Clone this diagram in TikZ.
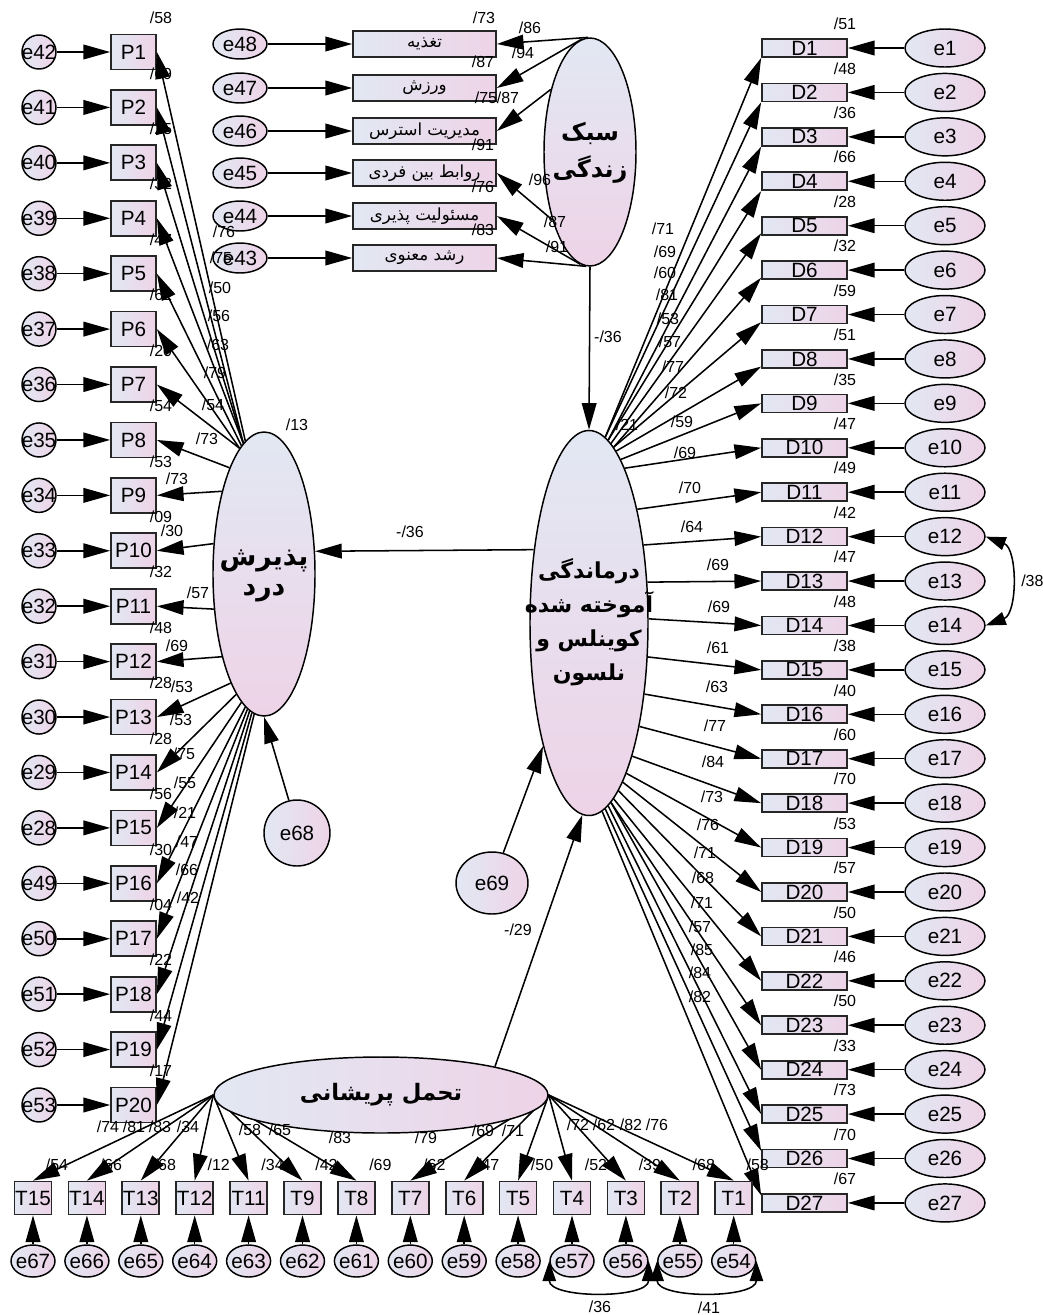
\documentclass[tikz,border=0pt]{standalone}
\usepackage{fontspec}
\setmainfont{Liberation Sans}
\newfontfamily\persianfont[Script=Arabic]{DejaVu Sans}
\TeXXeTstate=1
\usetikzlibrary{arrows.meta,shapes.geometric}
\pgfdeclarelayer{bglayer}
\pgfsetlayers{bglayer,main}
\definecolor{gL}{RGB}{226,232,243}
\definecolor{gR}{RGB}{238,211,231}
\newcommand\fa[1]{{\persianfont\beginR #1\endR}}
\newcommand\zwb[1]{\makebox[0pt]{#1}}
\begin{document}
\begin{tikzpicture}[x=0.75pt,y=-0.75pt,
  every node/.style={font=\fontsize{15.5}{18}\selectfont},
  obs/.style={rectangle, draw=black!85, line width=1.3pt, left color=gL, right color=gR, inner sep=0pt},
  pbox/.style={obs, minimum width=33.75pt, minimum height=26.25pt},
  dbox/.style={obs, minimum width=63.75pt, minimum height=13.5pt},
  tbox/.style={obs, minimum width=27.75pt, minimum height=24.75pt},
  lbox/.style={obs, minimum width=107.25pt, minimum height=19.5pt, font=\fontsize{12.5}{14}\selectfont},
  err/.style={ellipse, draw=black, line width=1.1pt, left color=gL, right color=gR, inner sep=0pt},
  ecl/.style={err, minimum width=25.5pt, minimum height=25.5pt},
  erd/.style={err, minimum width=60pt, minimum height=28.5pt},
  elb/.style={err, minimum width=33pt, minimum height=24pt},
  etp/.style={err, minimum width=40.5pt, minimum height=22.5pt},
  lat/.style={ellipse, draw=black, line width=1.1pt, top color=gL, bottom color=gR, inner sep=0pt},
  arr/.style={line width=1.15pt, -{Triangle[length=20pt,width=11pt]}},
  cov/.style={line width=1.15pt, {Triangle[length=15pt,width=10pt]}-{Triangle[length=15pt,width=10pt]}},
  num/.style={font=\fontsize{12}{14}\selectfont, inner sep=0pt},
]
\begin{pgfonlayer}{bglayer}
\fill[white] (0,0) rectangle (1043,1315);
\end{pgfonlayer}
\useasboundingbox (0,0) rectangle (1043,1315);

% ---------- latent variables
\node[lat, minimum width=69pt, minimum height=171pt,
  font=\persianfont\bfseries\fontsize{18}{27.75}\selectfont] (life) at (590,152)
  {\zwb{\begin{tabular}{@{}c@{}}\fa{سبک}\\\fa{زندگی}\end{tabular}}};
\node[lat, minimum width=76.5pt, minimum height=213pt,
  font=\persianfont\bfseries\fontsize{20}{22.5}\selectfont] (pain) at (264,574)
  {\zwb{\begin{tabular}{@{}c@{}}\fa{پذیرش}\\\fa{درد}\end{tabular}}};
\node[lat, minimum width=88.5pt, minimum height=288.75pt,
  font=\persianfont\bfseries\fontsize{16.5}{25.5}\selectfont] (help) at (589,623)
  {\zwb{\begin{tabular}{@{}c@{}}\fa{درماندگی}\\\fa{آموخته شده}\\\fa{کوینلس و}\\\fa{نلسون}\end{tabular}}};
\node[lat, left color=gL, right color=gR, minimum width=250.5pt, minimum height=57pt,
  font=\persianfont\bfseries\fontsize{17}{20}\selectfont] (dist) at (381,1095)
  {\zwb{\fa{تحمل پریشانی}}};
\node[err, minimum width=49.5pt, minimum height=49.5pt] (e68) at (297,833) {\zwb{e68}};
\node[err, minimum width=54pt, minimum height=46.5pt] (e69) at (492,883) {\zwb{e69}};

% ---------- structural paths
\draw[arr] (life.south) -- (help.north);
\draw[arr] (help.127) -- (pain.24);
\draw[arr] (dist.14) -- (help.268);
\draw[arr] (e68.104) -- (pain.south);
\draw[arr] (e69) -- (help);
\node[num] (c1) at (608,337) {-/36};
\node[num] (c2) at (410,532) {-/36};
\node[num] (c3) at (518,930) {-/29};
\node[num] (r1) at (297,425) {/13};
\node[num] (r2) at (627,425) {/21};

% ---------- lifestyle indicators
\foreach \y/\e/\a/\t [count=\i] in {44/48/91/تغذیه, 88/47/94/ورزش, 131/46/122/مدیریت استرس, 173/45/241/روابط بین فردی, 216/44/265/مسئولیت پذیری, 258/43/268/رشد معنوی} {
  \node[lbox] (L\i) at (424.5,\y) {\fa{\t}};
  \node[etp] (e\e) at (240,\y) {\zwb{e\e}};
  \draw[arr] (e\e) -- (L\i);
  \draw[arr] (life.\a) -- (L\i.east);
}
\foreach \x/\y/\v [count=\i] in {484/18/73, 530/28/86, 523/53/94, 483/62/87, 486/98/75, 508/98/87, 483/145/91, 540/180/96, 483/187/76, 555/222/87, 483/230/83, 557/247/91}
  \node[num] (ll\i) at (\x,\y) {/\v};

% ---------- pain acceptance indicators
\foreach \e/\a [count=\i] in {42/98,41/99,40/99,39/99,38/100,37/101,36/101,35/108,34/117,33/149,32/215,31/243,30/253,29/257,28/260,49/262,50/263,51/264,52/265,53/266} {
  \node[pbox] (P\i) at (133.5,{52+(\i-1)*55.42}) {P\i};
  \node[ecl] (e\e) at (39,{52+(\i-1)*55.42}) {\zwb{e\e}};
  \draw[arr] (e\e) -- (P\i);
  \draw[arr] (pain.\a) -- (P\i.east);
}
\foreach \v [count=\i] in {58,69,25,32,47,62,20,54,53,09,32,48,28,28,56,30,04,22,44,17}
  \node[num] (rp\i) at (161,{18+(\i-1)*55.42}) {/\v};
\foreach \x/\y/\v [count=\i] in {224/232/76, 221/258/75, 220/288/50, 219/316/56, 218/345/63, 215/373/79, 213/405/54, 207/439/73, 177/479/73, 172/531/30, 198/593/57, 177/646/69, 182/687/53, 181/720/53, 184/754/75, 185/783/55, 185/813/21, 187/842/47, 187/870/66, 188/898/42}
  \node[num] (lp\i) at (\x,\y) {/\v};

% ---------- learned helplessness indicators
\foreach \r/\a/\b [count=\i] in {51/85/south west, 48/85/south west, 36/84/south west, 66/84/south west, 28/83/190, 32/82/190, 59/82/190, 51/81/190, 35/79/west, 47/77/west, 49/67/west, 42/55/west, 47/35/west, 48/4/west, 38/330/west, 40/308/west, 60/296/west, 70/288/west, 53/284/west, 57/282/west, 50/280/west, 46/278/west, 50/277/west, 33/277/west, 73/276/west, 70/275/170, 67/274/170} {
  \node[dbox] (D\i) at (804.5,{48+(\i-1)*44.42}) {D\i};
  \node[erd] (e\i) at (945,{48+(\i-1)*44.42}) {\zwb{e\i}};
  \draw[arr] (e\i) -- (D\i);
  \draw[arr] (help.\a) -- (D\i.\b);
  \node[num] (rd\i) at (845,{24+(\i-1)*44.42}) {/\r};
}
\foreach \x/\y/\v [count=\i] in {663/229/71, 665/252/69, 665/273/60, 667/295/81, 668/319/53, 670/342/57, 673/367/77, 676/393/72, 682/422/59, 685/453/69, 690/488/70, 692/527/64, 718/565/69, 719/607/69, 718/648/61, 717/687/63, 715/726/77, 713/762/84, 712/797/73, 708/825/76, 705/853/71, 703/878/68, 702/903/71, 700/927/57, 702/950/85, 700/973/84, 700/997/82}
  \node[num] (ld\i) at (\x,\y) {/\v};
\draw[cov] (e12.east) .. controls +(32,12) and +(32,-12) .. (e14.east);
\node[num, anchor=west] (c4) at (1021,581) {/38};

% ---------- distress tolerance indicators
\foreach \t/\e/\r [count=\k from 0] in {15/67/54,14/66/66,13/65/68,12/64/12,11/63/34,9/62/42,8/61/69,7/60/62,6/59/47,5/58/50,4/57/52,3/56/39,2/55/68,1/54/58} {
  \node[tbox] (T\t) at ({33+\k*53.9},1198) {T\t};
  \node[elb] (e\e) at ({33+\k*53.9},1261) {\zwb{e\e}};
  \draw[arr] (e\e) -- (T\t);
  \node[num] (rt\t) at ({57+\k*53.9},1165) {/\r};
}
\begin{pgfonlayer}{bglayer}
\foreach \t in {15,14,13,12,11,9,8} \draw[arr] (dist.west) -- (T\t.north);
\foreach \t in {7,6,5,4,3,2,1} \draw[arr] (dist.east) -- (T\t.north);
\end{pgfonlayer}
\foreach \x/\y/\v [count=\i] in {108/1127/74, 134/1127/81, 160/1127/83, 188/1127/34, 250/1130/58, 280/1130/65, 340/1138/83, 426/1138/79, 483/1131/69, 513/1131/71, 578/1125/72, 604/1125/62, 631/1125/82, 657/1125/76}
  \node[num] (lt\i) at (\x,\y) {/\v};
\draw[cov] (e57.west) .. controls +(0,38) and +(0,38) .. (e56.east);
\draw[cov] (e55.west) .. controls +(0,38) and +(0,38) .. (e54.east);
\node[num] (c5) at (600,1307) {/36};
\node[num] (c6) at (709,1308) {/41};
\end{tikzpicture}
\end{document}
